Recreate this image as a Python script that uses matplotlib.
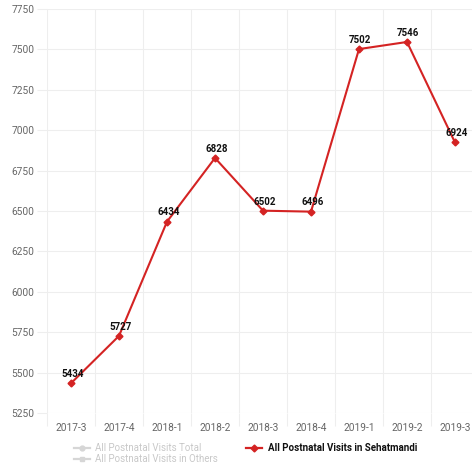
import matplotlib.pyplot as plt
from matplotlib.lines import Line2D
import numpy as np

plt.rcParams['font.family'] = ['Roboto', 'DejaVu Sans']

# quarterly postnatal visits
quarters = ['2017-3', '2017-4', '2018-1', '2018-2', '2018-3', '2018-4',
            '2019-1', '2019-2', '2019-3']
sehatmandi = [5434, 5727, 6434, 6828, 6502, 6496, 7502, 7546, 6924]
legend_names = ['All Postnatal Visits Total', 'All Postnatal Visits in Others',
                'All Postnatal Visits in Sehatmandi']

red = '#d42323'
grid_col = '#eeeeee'

fig = plt.figure(figsize=(4.72, 4.72), dpi=100)
ax = fig.add_axes([47 / 472, 59 / 472, 432 / 472, 404 / 472])

x = np.arange(len(quarters))
ax.plot(x, sehatmandi, color=red, lw=1.5, marker='D', ms=3.5, zorder=3)
for xi, v in zip(x, sehatmandi):
    ax.annotate(str(v), (xi, v), xytext=(1, 3), textcoords='offset points',
                ha='center', va='bottom', fontsize=7, fontweight='bold',
                color='#111111', zorder=4)

ax.set_xlim(-0.5, len(quarters) - 0.5)
ax.set_ylim(5250, 7750)
ax.set_yticks(np.arange(5250, 7751, 250))
ax.set_xticks(x)
ax.set_xticklabels(quarters)
ax.set_xticks(np.arange(-0.5, len(quarters), 1), minor=True)

ax.grid(axis='y', color=grid_col, lw=0.8)
ax.grid(axis='x', which='minor', color=grid_col, lw=0.8)
ax.tick_params(axis='x', which='major', length=0, pad=7, labelsize=7.3,
               labelcolor='#666666')
ax.tick_params(axis='x', which='minor', length=9, color=grid_col, width=0.8)
ax.tick_params(axis='y', length=7, color=grid_col, width=0.8, pad=2,
               labelsize=7.3, labelcolor='#666666')
for s in ax.spines.values():
    s.set_visible(False)

handles = [
    Line2D([], [], color='#d6d6d6', marker='o', ms=3.5, lw=1.6),
    Line2D([], [], color='#d6d6d6', marker='s', ms=3.5, lw=1.6),
    Line2D([], [], color=red, marker='D', ms=3.5, lw=1.6),
]
leg = fig.legend(handles, legend_names, ncol=2, frameon=False,
                 loc='upper left', bbox_to_anchor=(74 / 472, 1 - 443 / 472),
                 fontsize=7, handlelength=1.6, handletextpad=0.6,
                 columnspacing=2.9, labelspacing=0.15, borderaxespad=0,
                 borderpad=0)
for t, c in zip(leg.get_texts(), ['#c8c8c8', '#c8c8c8', '#111111']):
    t.set_color(c)
leg.get_texts()[2].set_fontweight('bold')

fig.savefig('out.png', dpi=100)
